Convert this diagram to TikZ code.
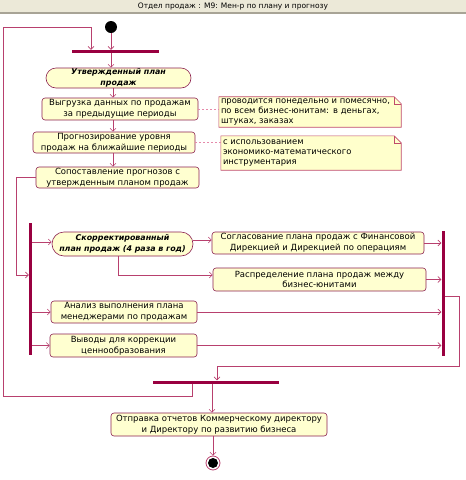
\documentclass[tikz,border=0pt]{standalone}
\usepackage{fontspec}
\setmainfont{DejaVu Sans}
\usetikzlibrary{arrows.meta,backgrounds}
\definecolor{boxfill}{HTML}{FFFFD0}
\definecolor{boxline}{HTML}{8C2050}
\definecolor{barcol}{HTML}{990040}
\definecolor{conn}{HTML}{B8406E}
\definecolor{dashcol}{HTML}{E58AAA}
\definecolor{notefill}{HTML}{FFFFCC}
\definecolor{noteline}{HTML}{C04A6A}
\definecolor{titlefill}{HTML}{ECE9D8}
\definecolor{titleline}{HTML}{A8A496}
\begin{document}
\begin{tikzpicture}[x=1pt,y=-1pt,
 act/.style={draw=boxline, fill=boxfill, rounded corners=3pt, inner sep=0pt, align=center,
   font=\fontsize{8.5}{10.8}\selectfont, line width=0.6pt},
 obj/.style={act, rounded corners=10pt, font=\fontsize{7.9}{10.5}\selectfont\bfseries\itshape},
 bar/.style={fill=barcol, draw=none, inner sep=0pt},
 flow/.style={draw=conn, line width=0.6pt, -{Straight Barb[length=3pt,width=6pt]}},
 dashlink/.style={draw=dashcol, dash pattern=on 2pt off 2pt, line width=0.6pt},
 notebox/.style={inner sep=2pt, align=left, font=\fontsize{8.4}{9.8}\selectfont},
 notepath/.style={draw=noteline, fill=notefill, line width=0.6pt}
]
\useasboundingbox (0,0) rectangle (466,480);
% title bar
\fill[titlefill] (0,0) rectangle (466,11.5);
\fill[titleline] (0,11.5) rectangle (466,14);
\node[font=\fontsize{7.5}{9}\selectfont, inner sep=0pt] (title) at (233,6) {Отдел продаж : М9: Мен-р по плану и прогнозу};

% nodes
\node[circle, fill=black, inner sep=0pt, minimum size=12pt] (start) at (111,27) {};
\node[bar, minimum width=87pt, minimum height=3pt] (bar1) at (115.5,51.5) {};
\node[obj, minimum width=145pt, minimum height=20pt] (s1) at (118.5,78) {Утвержденный план\\продаж};
\node[act, minimum width=156pt, minimum height=22pt] (b1) at (120,109) {Выгрузка данных по продажам\\за предыдущие периоды};
\node[act, minimum width=162pt, minimum height=21pt] (b2) at (114,142.5) {Прогнозирование уровня\\продаж на ближайшие периоды};
\node[act, minimum width=163pt, minimum height=21pt] (b3) at (117.5,177.5) {Сопоставление прогнозов с\\утвержденным планом продаж};
\node[notebox, text width=178pt, minimum height=30pt] (n1) at (310,112) {проводится понедельно и помесячно,\\по всем бизнес-юнитам: в деньгах,\\штуках, заказах};
\node[notebox, text width=176pt, minimum height=34pt] (n2) at (311,153) {с использованием\\экономико-математического\\инструментария};

\node[bar, minimum width=3pt, minimum height=132pt] (bar2) at (30.5,289) {};
\node[obj, rounded corners=12pt, minimum width=141pt, minimum height=24pt] (s2) at (122.5,244) {Скорректированный\\план продаж (4 раза в год)};
\node[act, minimum width=212pt, minimum height=22pt] (sogl) at (318,243) {Согласование плана продаж с Финансовой\\Дирекцией и Дирекцией по операциям};
\node[act, minimum width=213pt, minimum height=23pt] (raspr) at (319.5,279.5) {Распределение плана продаж между\\бизнес-юнитами};
\node[act, minimum width=146pt, minimum height=22pt] (an) at (124,312) {Анализ выполнения плана\\менеджерами по продажам};
\node[act, minimum width=147pt, minimum height=23pt] (vy) at (123.5,345.5) {Выводы для коррекции\\ценнообразования};
\node[bar, minimum width=3pt, minimum height=125pt] (bar3) at (443,293.5) {};
\node[bar, minimum width=126pt, minimum height=3pt] (bar4) at (216,382) {};
\node[act, minimum width=216pt, minimum height=23pt] (fin) at (219,424.5) {Отправка отчетов Коммерческому директору\\и Директору по развитию бизнеса};
\node[circle, draw=conn, fill=white, line width=0.8pt, inner sep=0pt, minimum size=14pt] (end) at (213,463) {};
\fill[black] (end.center) circle (5);

% note outlines
\begin{scope}[on background layer]
\foreach \n in {n1,n2}{
 \path[notepath] (\n.south west) -- (\n.north west) -- ([xshift=-7pt]\n.north east)
   -- ([yshift=-7pt]\n.north east) -- (\n.south east) -- cycle;
 \draw[noteline, line width=0.5pt] ([xshift=-7pt]\n.north east) -- ([xshift=-7pt,yshift=-7pt]\n.north east) -- ([yshift=-7pt]\n.north east);
}
\end{scope}

% helper coordinates
\coordinate (colA) at (113,0);
\coordinate (L1) at (192,396);
\coordinate (L2) at (3,27);
\coordinate (L3) at (91,27);
\coordinate (M1) at (16,275);
\coordinate (R1) at (459,366);
\coordinate (R2) at (217,366);
\coordinate (C2) at (212,0);

% connectors
\draw[flow] (start) -- (start |- bar1.north);
\draw[flow] (start |- bar1.south) -- (start |- s1.north);
\draw[flow] (colA |- s1.south) -- (colA |- b1.north);
\draw[flow] (colA |- b1.south) -- (colA |- b2.north);
\draw[flow] (colA |- b2.south) -- (colA |- b3.north);
\draw[dashlink] (b1.east) -- (b1.east -| n1.west);
\draw[dashlink] (b2.east) -- (b2.east -| n2.west);
\draw[flow] (b3.west) -| (M1) -- (M1 -| bar2.west);
\draw[flow] ([yshift=2pt]bar2.east |- s2.west) -- ([yshift=2pt]s2.west);
\draw[flow] (bar2.east |- an.west) -- (an.west);
\draw[flow] (bar2.east |- vy.west) -- (vy.west);
\draw[flow] ([yshift=4pt]s2.east) -- ([yshift=4pt]s2.east -| sogl.west);
\draw[flow] ([xshift=-4.5pt]s2.south) |- ([yshift=4.5pt]raspr.west);
\draw[flow] (sogl.east) -- (sogl.east -| bar3.west);
\draw[flow] (raspr.east) -- (raspr.east -| bar3.west);
\draw[flow] (an.east) -- (an.east -| bar3.west);
\draw[flow] (vy.east) -- (vy.east -| bar3.west);
\draw[flow] ([yshift=-2.5pt]bar3.east) -| (R1) -- (R2) -- (R2 |- bar4.north);
\draw[flow] (L1 |- bar4.south) -- (L1) -- (L1 -| L2) -- (L2) -- (L3) -- (L3 |- bar1.north);
\draw[flow] (C2 |- bar4.south) -- (C2 |- fin.north);
\draw[flow] (end |- fin.south) -- (end.north);
\end{tikzpicture}
\end{document}
